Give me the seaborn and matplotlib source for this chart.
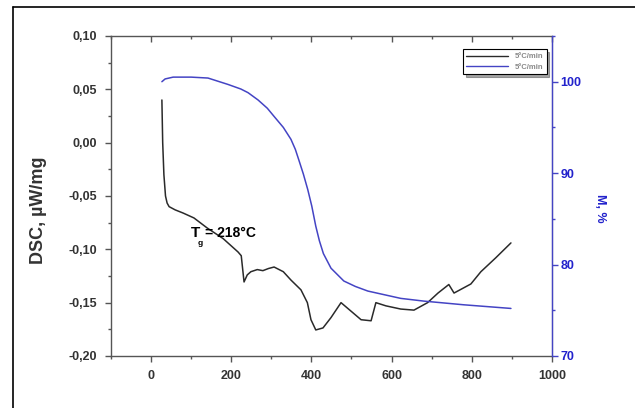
import matplotlib
matplotlib.use("Agg")
import matplotlib.pyplot as plt
import matplotlib.ticker as mticker
from matplotlib.lines import Line2D
import seaborn as sns
import pandas as pd

# DSC curve (left axis)
dsc_temp = [27, 29, 32, 36, 40, 45, 60, 80, 107, 140, 180, 217, 225, 232, 240, 249, 265, 279,
            293, 307, 330, 349, 374, 390, 399, 411, 429, 449, 474, 499, 524, 549,
            561, 586, 623, 656, 690, 716, 743, 756, 798, 823, 860, 898]
dsc_val = [0.04, 0.0, -0.03, -0.05, -0.0566, -0.06, -0.063, -0.066, -0.0706, -0.080, -0.090, -0.1025,
           -0.106, -0.1306, -0.124, -0.121, -0.119, -0.120, -0.118, -0.1166, -0.121, -0.1288,
           -0.138, -0.150, -0.166, -0.1756, -0.1737, -0.164, -0.150, -0.158, -0.166, -0.167,
           -0.150, -0.153, -0.156, -0.157, -0.150, -0.141, -0.133, -0.141, -0.1325, -0.121,
           -0.108, -0.094]

# TG curve (right axis)
tg_temp = [27, 35, 55, 100, 142, 192, 224, 242, 267, 290, 307, 330, 349, 360, 369, 380, 391,
           401, 411, 420, 430, 449, 481, 510, 541, 623, 681, 780, 898]
tg_val = [100.0, 100.3, 100.5, 100.5, 100.4, 99.7, 99.2, 98.8, 98.0, 97.1, 96.2, 95.0, 93.7,
          92.6, 91.4, 89.9, 88.2, 86.4, 84.2, 82.6, 81.2, 79.6, 78.2, 77.6, 77.1, 76.3, 76.0,
          75.6, 75.2]

legend_labels = ["5°C/min", "5°C/min"]
x_ticks = [0, 200, 400, 600, 800, 1000]
left_ticks = [0.10, 0.05, 0.00, -0.05, -0.10, -0.15, -0.20]
right_ticks = [70, 80, 90, 100]

sns.set_style("ticks")
plt.rcParams["font.family"] = ["Liberation Sans", "DejaVu Sans"]
plt.rcParams["font.weight"] = "bold"

dsc = pd.DataFrame({"T": dsc_temp, "v": dsc_val})
tg = pd.DataFrame({"T": tg_temp, "v": tg_val})

black = "#2a2a2a"
blue_line = "#4444c4"
blue_txt = "#2222cc"

fig = plt.figure(figsize=(6.35, 4.08), dpi=100)
ax = fig.add_axes([0.1748, 0.1275, 0.869 - 0.1748, 0.9118 - 0.1275])
ax2 = ax.twinx()

sns.lineplot(data=dsc, x="T", y="v", ax=ax, color=black, linewidth=1.1)
sns.lineplot(data=tg, x="T", y="v", ax=ax2, color=blue_line, linewidth=1.1)

ax.set_xlim(-100, 1000)
ax.set_ylim(-0.20, 0.10)
ax2.set_ylim(70, 105)

ax.set_xticks(x_ticks)
ax.xaxis.set_minor_locator(mticker.MultipleLocator(100))
ax.set_yticks(left_ticks)
ax.yaxis.set_minor_locator(mticker.MultipleLocator(0.025))
ax.yaxis.set_major_formatter(mticker.FuncFormatter(lambda v, p: f"{v:.2f}".replace(".", ",").replace("-0,00", "0,00")))
ax2.set_yticks(right_ticks)
ax2.yaxis.set_minor_locator(mticker.MultipleLocator(5))

for s in ["left", "bottom", "top"]:
    ax.spines[s].set_color("#555555")
    ax.spines[s].set_linewidth(1.0)
ax2.spines["right"].set_color(blue_line)
ax2.spines["right"].set_linewidth(1.0)
for s in ["left", "bottom", "top"]:
    ax2.spines[s].set_visible(False)

ax.tick_params(axis="both", which="major", direction="out", length=4, width=1,
               color="#555555", labelsize=9, labelcolor="#333333", pad=6)
ax.tick_params(axis="both", which="minor", direction="out", length=2, width=1, color="#555555")
ax.tick_params(axis="x", which="both", top=True)
ax2.tick_params(axis="y", which="major", direction="out", length=4, width=1,
                color=blue_line, labelsize=9, labelcolor=blue_txt, pad=2)
ax2.tick_params(axis="y", which="minor", direction="out", length=2, width=1, color=blue_line)
# top ticks point inward
for t in ax.xaxis.get_ticklines(minor=False)[1::2]:
    t.set_marker(3)
for t in ax.xaxis.get_ticklines(minor=True)[1::2]:
    t.set_marker(3)

ax.set_xlabel("")
ax.set_ylabel("DSC, µW/mg", fontsize=13, fontweight="bold", color="#333333")
ax.yaxis.set_label_coords(-0.145, 0.456)
ax2.set_ylabel("M, %", fontsize=9, fontweight="bold", color=blue_txt, rotation=270, va="center")
ax2.yaxis.set_label_coords(1.109, 0.46)

ax.text(100, -0.0847, "T", fontsize=11, fontweight="bold", color="black", va="center")
ax.text(117, -0.095, "g", fontsize=6, fontweight="bold", color="black", va="center")
ax.text(135, -0.0847, "= 218°C", fontsize=10, fontweight="bold", color="black", va="center")

handles = [Line2D([], [], color=black, lw=1.0), Line2D([], [], color=blue_line, lw=1.0)]
leg = ax.legend(handles, legend_labels, loc="upper right", bbox_to_anchor=(0.997, 0.97),
                fontsize=5.5, frameon=True, fancybox=False, shadow=True,
                handlelength=5.5, borderpad=0.45, labelspacing=0.45)
leg.get_frame().set_edgecolor("black")
leg.get_frame().set_linewidth(0.8)
for t in leg.get_texts():
    t.set_color("#888888")

# outer frame lines (top and left)
fig.add_artist(Line2D([13 / 635, 13 / 635], [0.0, 1 - 7 / 408], color="black", lw=1.2))
fig.add_artist(Line2D([13 / 635, 1.0], [1 - 7 / 408, 1 - 7 / 408], color="black", lw=1.2))

fig.savefig("out.png", dpi=100)
